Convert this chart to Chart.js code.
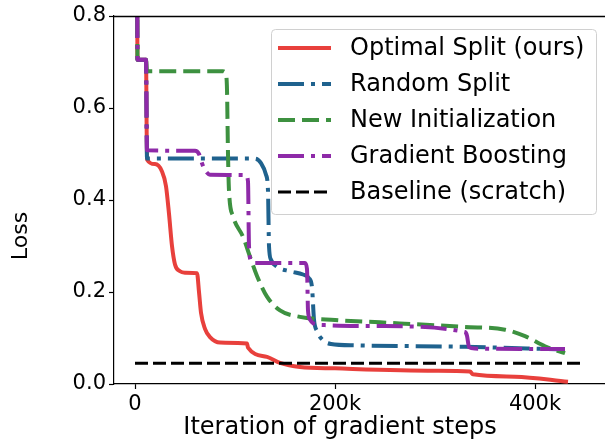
<!DOCTYPE html>
<html>
<head>
<meta charset="utf-8">
<script src="https://cdn.jsdelivr.net/npm/chart.js@4"></script>
<style>
  html, body { margin: 0; padding: 0; background: #fff; overflow: hidden; }
  #wrap { width: 620px; height: 444px; }
</style>
</head>
<body>
<div id="wrap"><canvas id="lossChart" width="620" height="444"></canvas></div>
<script>
// iterations are in thousands of gradient steps
const seriesNames = ["Optimal Split (ours)", "Random Split", "New Initialization", "Gradient Boosting", "Baseline (scratch)"];

const optimalSteps = [2, 2.5, 11, 12, 20, 27, 31, 34, 37, 40, 45, 50, 62, 64, 66, 70, 75, 85, 112, 113, 132, 145, 165, 200, 300, 335, 338, 380, 433];
const optimalLoss  = [1.0, 0.705, 0.705, 0.488, 0.478, 0.462, 0.43, 0.37, 0.30, 0.26, 0.245, 0.242, 0.241, 0.20, 0.155, 0.12, 0.102, 0.09, 0.088, 0.079, 0.059, 0.046, 0.037, 0.034, 0.029, 0.027, 0.021, 0.016, 0.005];

const randomSteps = [2, 2.5, 11, 12, 120, 126, 131, 133, 134, 136, 142, 155, 168, 174, 177, 179, 182, 188, 196, 220, 330, 430];
const randomLoss  = [1.0, 0.705, 0.705, 0.49, 0.49, 0.48, 0.455, 0.42, 0.30, 0.27, 0.255, 0.245, 0.238, 0.23, 0.21, 0.14, 0.115, 0.095, 0.087, 0.084, 0.081, 0.075];

const newInitSteps = [2, 2.5, 11, 12, 88, 91, 92, 93, 94, 98, 108, 115, 122, 132, 145, 165, 200, 245, 330, 370, 390, 410, 430];
const newInitLoss  = [1.0, 0.705, 0.705, 0.68, 0.68, 0.672, 0.64, 0.5, 0.42, 0.365, 0.32, 0.277, 0.235, 0.19, 0.16, 0.146, 0.139, 0.134, 0.124, 0.118, 0.104, 0.082, 0.067];

const boostingSteps = [2, 2.5, 11, 12, 60, 64, 67, 70, 75, 111, 113, 114, 116, 120, 170, 172, 173, 175, 178, 190, 245, 330, 332, 334, 340, 430];
const boostingLoss  = [1.0, 0.705, 0.705, 0.508, 0.507, 0.5, 0.48, 0.465, 0.455, 0.454, 0.44, 0.30, 0.268, 0.263, 0.263, 0.25, 0.16, 0.14, 0.132, 0.128, 0.126, 0.113, 0.105, 0.08, 0.077, 0.076];

const baselineSteps = [0, 450];
const baselineLoss  = [0.045, 0.045];

const xTicks = [0, 200, 400];
const yTicks = [0.0, 0.2, 0.4, 0.6, 0.8];

const toPoints = (xs, ys) => xs.map((x, i) => ({ x: x, y: ys[i] }));

Chart.defaults.font.family = "'DejaVu Sans', sans-serif";
Chart.defaults.color = "#000";

function lineSet(label, xs, ys, color, dash, width, order) {
  return {
    label: label,
    data: toPoints(xs, ys),
    showLine: true,
    borderColor: color,
    backgroundColor: color,
    borderWidth: width,
    borderDash: dash,
    borderCapStyle: "butt",
    borderJoinStyle: "round",
    cubicInterpolationMode: "monotone",
    pointRadius: 0,
    clip: 0,
    order: order
  };
}

const dashDot = [26, 7, 4, 7];

const datasets = [
  lineSet(seriesNames[0], optimalSteps, optimalLoss, "#e8403c", [], 4, 5),
  lineSet(seriesNames[1], randomSteps, randomLoss, "#1f628e", dashDot, 4, 4),
  lineSet(seriesNames[2], newInitSteps, newInitLoss, "#3d9140", [17, 7], 4, 3),
  lineSet(seriesNames[3], boostingSteps, boostingLoss, "#8e2aa8", dashDot, 4, 2),
  lineSet(seriesNames[4], baselineSteps, baselineLoss, "#000000", [13, 5], 3, 1)
];

// frame, axis titles and legend box like the original figure
const decorations = {
  id: "decorations",
  afterDraw(chart) {
    const ctx = chart.ctx;
    const a = chart.chartArea;
    ctx.save();
    ctx.strokeStyle = "#000";
    ctx.lineWidth = 1.5;
    const top = Math.round(a.top) + 0.5;
    ctx.beginPath();
    ctx.moveTo(a.left, top);
    ctx.lineTo(a.right, top);
    ctx.lineTo(a.right, a.bottom);
    ctx.stroke();

    // axis titles
    ctx.fillStyle = "#000";
    ctx.textAlign = "center";
    ctx.textBaseline = "middle";
    ctx.font = "24px 'DejaVu Sans'";
    ctx.fillText("Iteration of gradient steps", 340, 428);
    ctx.save();
    ctx.translate(21, 236);
    ctx.rotate(-Math.PI / 2);
    ctx.font = "22px 'DejaVu Sans'";
    ctx.fillText("Loss", 0, 0);
    ctx.restore();

    // legend
    const bx = 271, by = 29, bw = 325, bh = 185;
    ctx.fillStyle = "rgba(255,255,255,0.85)";
    ctx.strokeStyle = "#d0d0d0";
    ctx.lineWidth = 1;
    ctx.beginPath();
    ctx.roundRect(bx + 0.5, by + 0.5, bw, bh, 4);
    ctx.fill();
    ctx.stroke();

    ctx.textAlign = "left";
    ctx.font = "24px 'DejaVu Sans'";
    chart.data.datasets.forEach((ds, i) => {
      const y = 48 + i * 36;
      ctx.strokeStyle = ds.borderColor;
      ctx.lineWidth = ds.borderWidth;
      ctx.lineCap = "butt";
      ctx.setLineDash(ds.borderDash);
      ctx.beginPath();
      ctx.moveTo(278, y);
      ctx.lineTo(331, y);
      ctx.stroke();
      ctx.setLineDash([]);
      ctx.fillStyle = "#000";
      ctx.fillText(ds.label, 350, y + 1);
    });
    ctx.restore();
  }
};

new Chart(document.getElementById("lossChart"), {
  type: "scatter",
  data: { datasets: datasets },
  options: {
    responsive: false,
    animation: false,
    layout: { padding: { top: 16, right: 13, left: 0, bottom: 0 } },
    plugins: {
      legend: { display: false },
      tooltip: { enabled: false }
    },
    scales: {
      x: {
        type: "linear",
        min: -21,
        max: 472,
        afterBuildTicks: (scale) => { scale.ticks = xTicks.map(v => ({ value: v })); },
        afterFit: (scale) => { scale.height = 60; },
        ticks: {
          font: { size: 21 },
          padding: 3,
          maxRotation: 0,
          callback: (v) => (v === 0 ? "0" : v + "k")
        },
        grid: { drawOnChartArea: false, color: "#000", tickLength: 5, tickWidth: 1.2 },
        border: { display: true, color: "#000", width: 1.2 }
      },
      y: {
        min: 0,
        max: 0.8,
        afterBuildTicks: (scale) => { scale.ticks = yTicks.map(v => ({ value: v })); },
        afterFit: (scale) => { scale.width = 114; },
        ticks: {
          font: { size: 21 },
          padding: 3,
          callback: (v) => v.toFixed(1)
        },
        grid: { drawOnChartArea: false, color: "#000", tickLength: 5, tickWidth: 1.2 },
        border: { display: true, color: "#000", width: 1.2 }
      }
    }
  },
  plugins: [decorations]
});
</script>
</body>
</html>
